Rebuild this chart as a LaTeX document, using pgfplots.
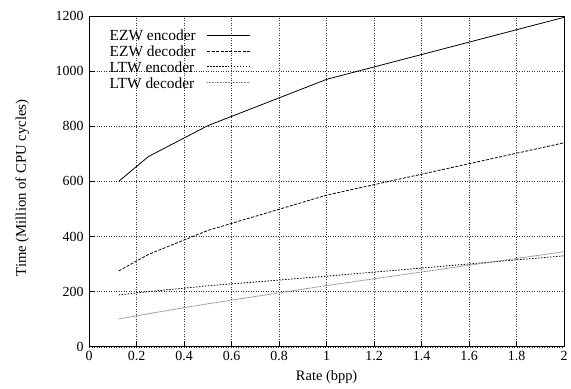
\documentclass[border=0pt]{standalone}
\usepackage{pgfplots}
\pgfplotsset{compat=1.18}
\usepackage{fontspec}
\setmainfont{Liberation Serif}
\begin{document}
\begin{tikzpicture}[x=1pt,y=1pt]
\begin{axis}[
  scale only axis,
  width=477.5pt, height=332.5pt,
  at={(89.5pt,41.5pt)}, anchor=south west,
  xmin=0, xmax=2, ymin=0, ymax=1200,
  xtick={0,0.2,...,2.01}, ytick={0,200,...,1200},
  xticklabels={0,0.2,0.4,0.6,0.8,1,1.2,1.4,1.6,1.8,2},
  /pgf/number format/assume math mode=true,
  /pgf/number format/1000 sep={},
  tick align=inside, xtick pos=bottom, ytick pos=left,
  major tick length=6pt,
  tick style={black, line width=0.6pt},
  grid=major,
  major grid style={black!80, line width=0.5pt, dotted},
  axis line style={line width=0.8pt},
  xlabel={Rate (bpp)}, ylabel={Time (Million of CPU cycles)},
  xticklabel style={font=\fontsize{14}{16}\selectfont, yshift=-1pt},
  yticklabel style={font=\fontsize{14}{16}\selectfont, xshift=-2pt},
  xlabel style={font=\fontsize{14.5}{16}\selectfont, at={(axis description cs:0.5,0)}, anchor=north, yshift=-20pt},
  ylabel style={font=\fontsize{14.8}{16}\selectfont, at={(axis description cs:0,0.48)}, anchor=center, yshift=67pt},
  legend plot pos=right,
  legend cell align=left,
  legend style={draw=none, fill=none, at={(0.043,0.958)}, anchor=north west,
    inner sep=0pt, column sep=11pt,
    nodes={inner xsep=0pt, inner ysep=0pt, text height=11pt, text depth=5pt},
    font=\fontsize{15.5}{16}\selectfont},
  legend image code/.code={\draw[#1] (0pt,3pt) -- (43pt,3pt);},
]
\addplot[black, line width=0.8pt] coordinates {(0.125,600) (0.25,690) (0.5,802) (1,970) (2,1195)};
\addlegendentry{EZW encoder}
\addplot[black, line width=0.8pt, dash pattern=on 3pt off 1.5pt] coordinates {(0.125,275) (0.25,335) (0.5,422) (1,550) (2,740)};
\addlegendentry{EZW decoder}
\addplot[black, line width=0.8pt, dash pattern=on 1.5pt off 1.5pt] coordinates {(0.125,188) (0.25,200) (0.5,221) (1,256) (2,330)};
\addlegendentry{LTW encoder}
\addplot[gray, line width=0.8pt, dash pattern=on 1pt off 0.6pt] coordinates {(0.125,101) (0.25,120) (0.5,156) (1,222) (2,345)};
\addlegendentry{LTW decoder}
\end{axis}
\path (0,0) rectangle (571,390);
\end{tikzpicture}
\end{document}
